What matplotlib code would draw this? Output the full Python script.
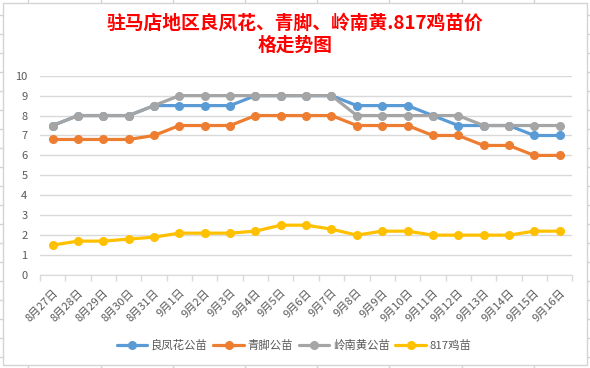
import matplotlib
matplotlib.use('Agg')
import matplotlib.pyplot as plt
from matplotlib.patches import Rectangle

plt.rcParams['font.family'] = ['Noto Sans CJK SC', 'DejaVu Sans']

# ── data ─────────────────────────────────────────────────────────────
dates = ['8月27日', '8月28日', '8月29日', '8月30日', '8月31日', '9月1日',
         '9月2日', '9月3日', '9月4日', '9月5日', '9月6日', '9月7日',
         '9月8日', '9月9日', '9月10日', '9月11日', '9月12日', '9月13日',
         '9月14日', '9月15日', '9月16日']
liangfenghua = [7.5, 8, 8, 8, 8.5, 8.5, 8.5, 8.5, 9, 9, 9, 9,
                8.5, 8.5, 8.5, 8, 7.5, 7.5, 7.5, 7, 7]
qingjiao = [6.8, 6.8, 6.8, 6.8, 7, 7.5, 7.5, 7.5, 8, 8, 8, 8,
            7.5, 7.5, 7.5, 7, 7, 6.5, 6.5, 6, 6]
lingnanhuang = [7.5, 8, 8, 8, 8.5, 9, 9, 9, 9, 9, 9, 9,
                8, 8, 8, 8, 8, 7.5, 7.5, 7.5, 7.5]
chick_817 = [1.5, 1.7, 1.7, 1.8, 1.9, 2.1, 2.1, 2.1, 2.2, 2.5, 2.5, 2.3,
             2.0, 2.2, 2.2, 2.0, 2.0, 2.0, 2.0, 2.2, 2.2]
series_names = ['良凤花公苗', '青脚公苗', '岭南黄公苗', '817鸡苗']
title = '驻马店地区良凤花、青脚、岭南黄.817鸡苗价\n格走势图'

colors = ['#5B9BD5', '#ED7D31', '#A5A5A5', '#FFC000']
text_gray = '#595959'
grid_gray = '#D9D9D9'

W, H = 590, 368
fig = plt.figure(figsize=(W / 100, H / 100), dpi=100)

# spreadsheet cells showing around the chart frame
bg = fig.add_axes([0, 0, 1, 1])
bg.set_xlim(0, W)
bg.set_ylim(H, 0)
bg.axis('off')
for k in range(-1, 9):
    bg.axvline(28.3 + 72.2 * k, color='#D4D4D4', lw=1)
for k in range(-1, 20):
    bg.axhline(15.3 + 19 * k, color='#D4D4D4', lw=1)
bg.add_patch(Rectangle((3, 3), 584, 362, facecolor='white',
                       edgecolor='#D4D4D4', lw=1, zorder=5))

# plot area
ax = fig.add_axes([40 / W, (H - 275) / H, (572.3 - 40) / W, (275 - 75.7) / H])
ax.set_facecolor('none')
ax.set_zorder(10)

x = range(len(dates))
for vals, name, c in zip([liangfenghua, qingjiao, lingnanhuang, chick_817],
                         series_names, colors):
    ax.plot(x, vals, '-o', color=c, lw=2.3, ms=5.5, label=name,
            solid_capstyle='round', zorder=3)

ax.set_xlim(-0.5, len(dates) - 0.5)
ax.set_ylim(0, 10)
ax.set_yticks(range(0, 11))
ax.grid(axis='y', color=grid_gray, lw=1)
ax.set_axisbelow(True)
for s in ['top', 'right', 'left']:
    ax.spines[s].set_visible(False)
ax.spines['bottom'].set_color(grid_gray)
ax.tick_params(axis='y', length=0, pad=9, labelsize=8, labelcolor=text_gray)

ax.set_xticks(list(x))
ax.set_xticklabels(dates, rotation=45, ha='right', rotation_mode='anchor',
                   fontsize=8, color=text_gray)
ax.tick_params(axis='x', which='major', length=0, pad=9)
ax.set_xticks([i - 0.5 for i in range(len(dates) + 1)], minor=True)
ax.tick_params(axis='x', which='minor', length=4, color=grid_gray, width=1)

fig.text(295 / W, 1 - 34 / H, title, ha='center', va='center',
         color='#FF0000', fontsize=13.5, fontweight='bold', linespacing=1.25)

handles, labels = ax.get_legend_handles_labels()
leg = fig.legend(handles, labels, loc='center', ncol=4, frameon=False,
                 bbox_to_anchor=(294 / W, 1 - 345 / H), fontsize=8.2,
                 handlelength=2.7, handletextpad=0.3, columnspacing=0.5)
for t in leg.get_texts():
    t.set_color(text_gray)
leg.set_zorder(20)

fig.savefig('out.png', dpi=100)
